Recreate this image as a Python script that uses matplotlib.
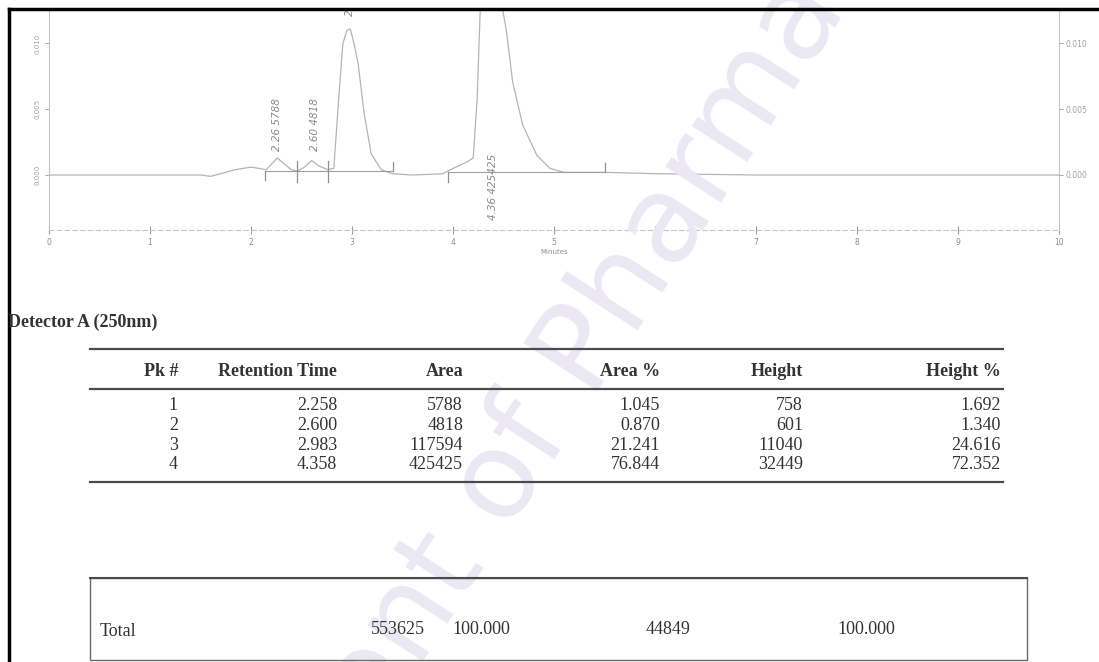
import numpy as np
import matplotlib.pyplot as plt
from matplotlib.lines import Line2D
from matplotlib.patches import Rectangle

W, H = 1099, 662

# chromatogram trace (minutes, AU)
trace_t = [0.0, 0.5, 1.0, 1.5, 1.6, 1.7, 1.84, 1.92, 2.0, 2.08, 2.15, 2.2, 2.26,
           2.32, 2.4, 2.46, 2.53, 2.6, 2.67, 2.76, 2.82, 2.87, 2.91, 2.95, 2.983,
           3.02, 3.06, 3.12, 3.19, 3.29, 3.4, 3.6, 3.9, 4.0, 4.14, 4.2, 4.24, 4.27,
           4.31, 4.36, 4.42, 4.47, 4.53, 4.59, 4.69, 4.83, 4.96, 5.1, 5.5, 6.0,
           7.0, 8.0, 9.0, 10.0]
trace_au = [0.0, 0.0, 0.0, 0.0, -0.0001, 0.0001, 0.0004, 0.0005, 0.0006, 0.0005,
            0.0004, 0.0008, 0.0013, 0.0009, 0.0004, 0.0003, 0.0006, 0.0011, 0.0007,
            0.0004, 0.0005, 0.0060, 0.0100, 0.0110, 0.0111, 0.0100, 0.0085, 0.0047,
            0.0016, 0.0004, 0.0001, 0.0, 0.0001, 0.0005, 0.0010, 0.0013, 0.0059,
            0.0127, 0.0250, 0.0326, 0.0240, 0.0135, 0.0109, 0.0071, 0.0038, 0.0015,
            0.0005, 0.0002, 0.0002, 0.0001, 0.0, 0.0, 0.0, 0.0]

# integration marks (start, ..., end) and baseline level
int_groups = [[2.14, 2.46, 2.76, 3.41], [3.95, 5.50]]
int_levels = [0.0003, 0.0002]

# result table
pk = ['1', '2', '3', '4']
ret_time = [2.258, 2.600, 2.983, 4.358]
area = [5788, 4818, 117594, 425425]
area_pct = [1.045, 0.870, 21.241, 76.844]
height = [758, 601, 11040, 32449]
height_pct = [1.692, 1.340, 24.616, 72.352]
total_area = 553625
total_height = 44849

# where the peak labels sit (minutes, AU of the lower end)
label_x = [2.26, 2.63, 2.98, 4.40]
label_y = [0.0018, 0.0018, 0.0121, -0.0034]

fig = plt.figure(figsize=(W / 100, H / 100), dpi=100)


def fx(x):
    return x / W


def fy(y):
    return 1 - y / H


# watermark
fig.text(fx(475), fy(520), 'Department of Pharmacy', fontsize=88, color='#ebe7f3',
         rotation=57, rotation_mode='anchor', ha='center', va='center',
         family='DejaVu Sans', zorder=0)

gray = '#9a9a9a'
ax = fig.add_axes([fx(49), fy(230), fx(1059) - fx(49), fy(10) - fy(230)])
ax.patch.set_alpha(0)
ax.set_xlim(0, 10)
ax.set_ylim(-0.00418, 0.01254)
ax.plot(trace_t, trace_au, color='#b4b4b4', lw=0.9)

for grp, lev in zip(int_groups, int_levels):
    ax.plot([grp[0], grp[-1]], [lev, lev], color='#a0a0a0', lw=0.8)
    for i, t in enumerate(grp):
        if i == 0:
            lo, hi = lev - 0.0007, lev
        elif i == len(grp) - 1:
            lo, hi = lev, lev + 0.0007
        else:
            lo, hi = lev - 0.0008, lev + 0.0008
        ax.plot([t, t], [lo, hi], color='#909090', lw=0.9)

for i in range(len(pk)):
    ax.text(label_x[i], label_y[i], '%.2f %d' % (ret_time[i], area[i]),
            rotation=90, ha='center', va='bottom', fontsize=7.5,
            style='italic', color='#8a8a8a', clip_on=True)

ax.spines['top'].set_visible(False)
ax.spines['bottom'].set_linestyle((0, (4, 3)))
for s in ['left', 'right', 'bottom']:
    ax.spines[s].set_color('#c4c4c4')
    ax.spines[s].set_linewidth(0.8)

ax.set_xticks(range(11))
ax.set_yticks([0.0, 0.005, 0.010])
ax.set_yticklabels(['0.000', '0.005', '0.010'], rotation=90, va='center')
ax.tick_params(axis='x', direction='inout', length=6, width=0.8, color=gray,
               labelsize=5.5, labelcolor='#8c8c8c', pad=3)
ax.tick_params(axis='y', length=3, width=0.6, color=gray, labelsize=5,
               labelcolor='#a0a0a0', pad=3)
ax.set_xlabel('Minutes', fontsize=5, color='#8c8c8c', labelpad=1)

ax2 = ax.twinx()
ax2.set_ylim(ax.get_ylim())
ax2.set_yticks([0.0, 0.005, 0.010])
ax2.set_yticklabels(['0.000', '0.005', '0.010'])
ax2.tick_params(axis='y', length=3, width=0.6, color=gray, labelsize=5.5,
                labelcolor='#a0a0a0', pad=2)
for s in ax2.spines.values():
    s.set_visible(False)

# page border
fig.add_artist(Line2D([fx(9), 1], [fy(9), fy(9)], color='black', lw=2.5))
fig.add_artist(Line2D([fx(9), fx(9)], [fy(9), 0], color='black', lw=2.5))

serif = 'Liberation Serif'
ink = '#333333'
fs = 13
fig.text(fx(8), fy(322), 'Detector A (250nm)', family=serif, fontsize=13,
         weight='bold', color=ink, va='center', ha='left')

rule = '#4a4a4a'
for y in [349, 389, 482]:
    fig.add_artist(Line2D([fx(90), fx(1003)], [fy(y), fy(y)], color=rule, lw=1.6))

col_right = [178, 337, 463, 660, 803, 1001]
headers = ['Pk #', 'Retention Time', 'Area', 'Area %', 'Height', 'Height %']
for x, h in zip(col_right, headers):
    fig.text(fx(x), fy(371), h, family=serif, fontsize=fs, weight='bold',
             color=ink, ha='right', va='center')

row_y = [406, 425.5, 445, 464.5]
for i in range(len(pk)):
    vals = [pk[i], '%.3f' % ret_time[i], str(area[i]), '%.3f' % area_pct[i],
            str(height[i]), '%.3f' % height_pct[i]]
    for x, v in zip(col_right, vals):
        fig.text(fx(x), fy(row_y[i]), v, family=serif, fontsize=fs,
                 color=ink, ha='right', va='center')

fig.add_artist(Rectangle((fx(90), fy(660)), fx(1027) - fx(90), fy(578) - fy(660),
                         transform=fig.transFigure, fill=False,
                         edgecolor='#6a6a6a', lw=1.0))
fig.add_artist(Line2D([fx(90), fx(1027)], [fy(578), fy(578)], color=rule, lw=1.5))
fig.text(fx(100), fy(632), 'Total', family=serif, fontsize=fs, color=ink,
         ha='left', va='center')
tot_vals = [str(total_area), '%.3f' % sum(area_pct), str(total_height),
            '%.3f' % sum(height_pct)]
for x, v in zip([425, 510, 690, 895], tot_vals):
    fig.text(fx(x), fy(630), v, family=serif, fontsize=fs, color=ink,
             ha='right', va='center')

fig.savefig('out.png', dpi=100)
